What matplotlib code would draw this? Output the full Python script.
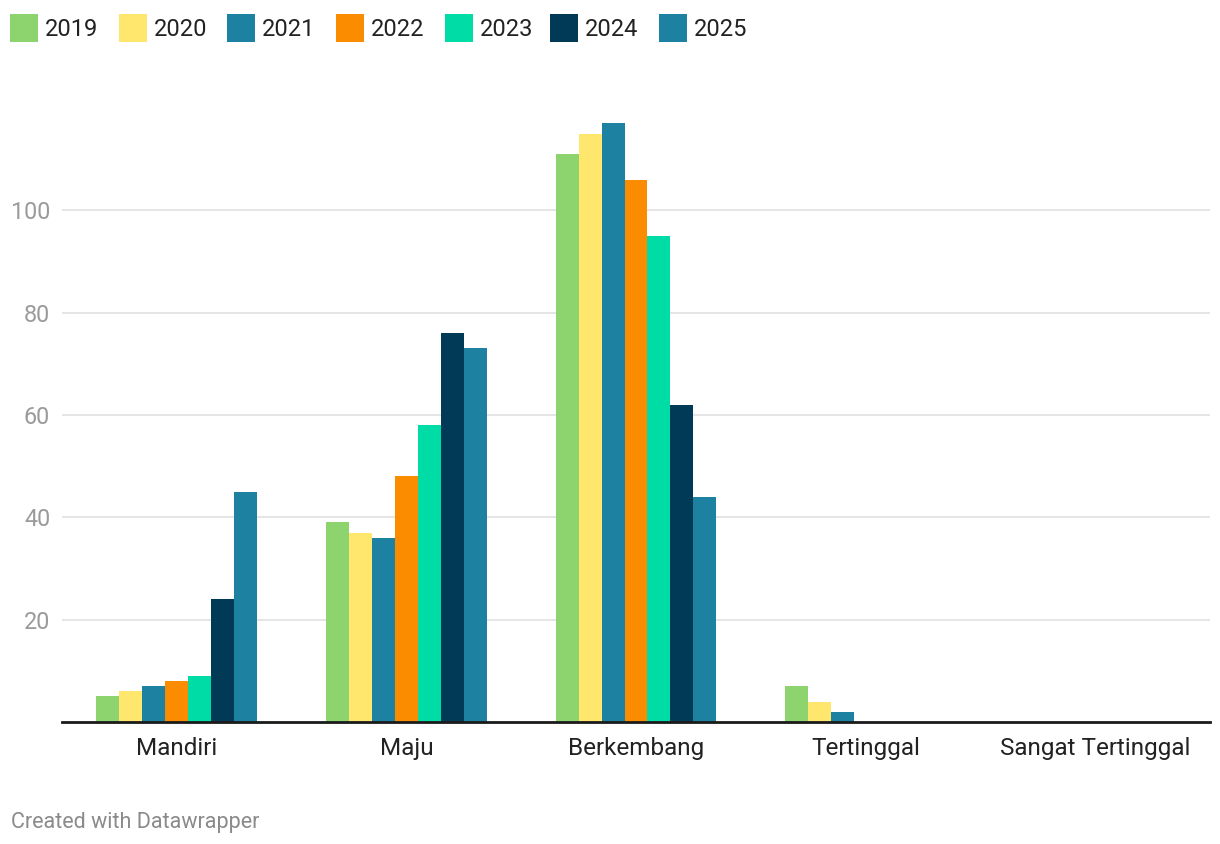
import matplotlib
matplotlib.use("Agg")
import matplotlib.pyplot as plt
from matplotlib.patches import Rectangle
import numpy as np

categories = ["Mandiri", "Maju", "Berkembang", "Tertinggal", "Sangat Tertinggal"]
years = ["2019", "2020", "2021", "2022", "2023", "2024", "2025"]
values = {
    "2019": [5, 39, 111, 7, 0],
    "2020": [6, 37, 115, 4, 0],
    "2021": [7, 36, 117, 2, 0],
    "2022": [8, 48, 106, 0, 0],
    "2023": [9, 58, 95, 0, 0],
    "2024": [24, 76, 62, 0, 0],
    "2025": [45, 73, 44, 0, 0],
}
colors = ["#8dd46f", "#ffe66d", "#1d81a2", "#fb8c00", "#00dca6", "#003a56", "#1d81a2"]
yticks = [20, 40, 60, 80, 100]

plt.rcParams['font.family'] = ['Roboto', 'DejaVu Sans']

W, H = 1220, 844
fig = plt.figure(figsize=(W / 100, H / 100), dpi=100)
ax = fig.add_axes([62 / W, (H - 722) / H, (1210 - 62) / W, (722 - 108) / H])

n = len(years)
bw = 0.1
x = np.arange(len(categories))
for i, yr in enumerate(years):
    offs = (i - (n - 1) / 2) * bw
    ax.bar(x + offs, values[yr], width=bw, color=colors[i], linewidth=0, zorder=3)

ax.set_xlim(-0.5, len(categories) - 0.5)
ax.set_ylim(0, 120)
ax.set_yticks(yticks)
ax.set_yticklabels([str(t) for t in yticks])
ax.set_xticks(x)
ax.set_xticklabels(categories)
ax.tick_params(axis='y', length=0, pad=8.5, labelsize=16.8, labelcolor="#9a9a9a")
ax.tick_params(axis='x', length=0, pad=11, labelsize=17.5, labelcolor="#222222")
ax.grid(axis='y', color="#e3e3e3", linewidth=1.3, zorder=0)
ax.grid(axis='x', visible=False)
for s in ["top", "right", "left"]:
    ax.spines[s].set_visible(False)
ax.spines["bottom"].set_color("#1a1a1a")
ax.spines["bottom"].set_linewidth(2)
ax.spines["bottom"].set_zorder(4)

# legend (manual, figure pixel coordinates)
legx = [10, 119, 227, 336, 445, 550, 659]
for i, yr in enumerate(years):
    x0 = legx[i]
    fig.patches.append(Rectangle(
        (x0 / W, (H - 42) / H), 28 / W, 28 / H, transform=fig.transFigure,
        facecolor=colors[i], edgecolor='none'))
    fig.text((x0 + 35) / W, (H - 36) / H, yr, fontsize=17, color="#222222",
             ha='left', va='baseline')

fig.text(11 / W, (H - 828) / H, "Created with Datawrapper", fontsize=15.5,
         color="#8a8a8a", ha='left', va='baseline')

fig.savefig("out.png", dpi=100)
